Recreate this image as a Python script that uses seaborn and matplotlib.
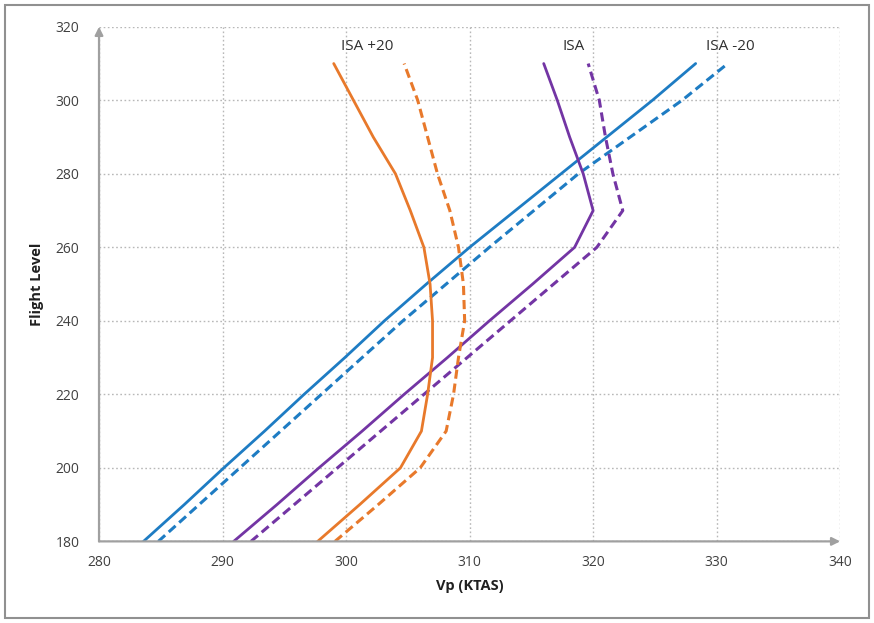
import matplotlib
matplotlib.use("Agg")
import matplotlib.pyplot as plt
import seaborn as sns
import pandas as pd
from matplotlib.patches import Rectangle

sns.set_theme(style="white")
plt.rcParams['font.family'] = ['Open Sans', 'DejaVu Sans']

flight_levels = [180, 190, 200, 210, 220, 230, 240, 250, 260, 270, 280, 290, 300, 310]

isa_m20_solid = [283.6, 286.9, 290.1, 293.4, 296.6, 299.9, 303.1, 306.5, 310.0, 313.7, 317.4, 321.1, 324.8, 328.3]
isa_m20_dash = [284.8, 288.1, 291.4, 294.7, 298.0, 301.3, 304.6, 308.1, 311.6, 315.2, 318.8, 323.0, 327.2, 330.9]
isa_solid = [290.9, 294.4, 297.8, 301.3, 304.7, 308.2, 311.6, 315.1, 318.5, 320.0, 319.2, 318.1, 317.1, 316.0]
isa_dash = [292.3, 295.8, 299.3, 302.8, 306.3, 309.8, 313.3, 316.8, 320.3, 322.4, 321.6, 321.0, 320.5, 319.6]
isa_p20_solid = [297.7, 301.1, 304.4, 306.1, 306.6, 307.0, 307.0, 306.8, 306.3, 305.2, 304.0, 302.2, 300.6, 299.0]
isa_p20_dash = [299.1, 302.6, 306.0, 308.1, 308.7, 309.1, 309.6, 309.5, 309.1, 308.4, 307.4, 306.6, 305.8, 304.7]

series_labels = ["ISA +20", "ISA", "ISA -20"]
label_x = [301.7, 318.4, 331.1]
label_y = [314.6, 314.6, 314.6]

x_ticks = [280, 290, 300, 310, 320, 330, 340]
y_ticks = [180, 200, 220, 240, 260, 280, 300, 320]

blue = '#1E7CC3'
purple = '#7335A4'
orange = '#E8792B'

fig = plt.figure(figsize=(8.74, 6.23), dpi=100)
ax = fig.add_axes([0.1133, 0.131, 0.848, 0.826])

lines = [
    (isa_m20_solid, blue, '-'),
    (isa_m20_dash, blue, '--'),
    (isa_solid, purple, '-'),
    (isa_dash, purple, '--'),
    (isa_p20_solid, orange, '-'),
    (isa_p20_dash, orange, '--'),
]
for vals, col, ls in lines:
    df = pd.DataFrame({"vp": vals, "fl": flight_levels})
    sns.lineplot(data=df, x="vp", y="fl", sort=False, estimator=None, color=col,
                 linestyle=ls, linewidth=2.2 if ls == '--' else 2.0, ax=ax)
for l in ax.get_lines():
    if l.get_linestyle() == '--':
        l.set_dashes([3, 1.6])

ax.set_xlim(280, 340)
ax.set_ylim(180, 320)
ax.set_xticks(x_ticks)
ax.set_yticks(y_ticks)
ax.grid(True, color='#b8b8b8', linestyle=(0, (1.2, 1.8)), linewidth=1.0)
for s in ax.spines.values():
    s.set_visible(False)
ax.tick_params(axis='both', length=0, labelsize=10, labelcolor='#404040', pad=10)
ax.tick_params(axis='y', pad=14)

ax.annotate('', xy=(1.0, 0), xytext=(0, 0), xycoords='axes fraction',
            arrowprops=dict(arrowstyle='-|>', color='#a0a0a0', lw=1.6, mutation_scale=12, shrinkA=0, shrinkB=0))
ax.annotate('', xy=(0, 1.0), xytext=(0, 0), xycoords='axes fraction',
            arrowprops=dict(arrowstyle='-|>', color='#a0a0a0', lw=1.6, mutation_scale=12, shrinkA=0, shrinkB=0))

for t, x, y in zip(series_labels, label_x, label_y):
    ax.text(x, y, t, ha='center', va='center', fontsize=11, color='#303030')

ax.set_xlabel('Vp (KTAS)', fontsize=10.5, fontweight='bold', color='#202020', labelpad=6)
ax.set_ylabel('Flight Level', fontsize=10.5, fontweight='bold', color='#202020', labelpad=8)

fig.patches.append(Rectangle((0.006, 0.008), 0.988, 0.984, transform=fig.transFigure,
                             fill=False, edgecolor='#909090', linewidth=1.5))

fig.savefig('out.png', dpi=100)
